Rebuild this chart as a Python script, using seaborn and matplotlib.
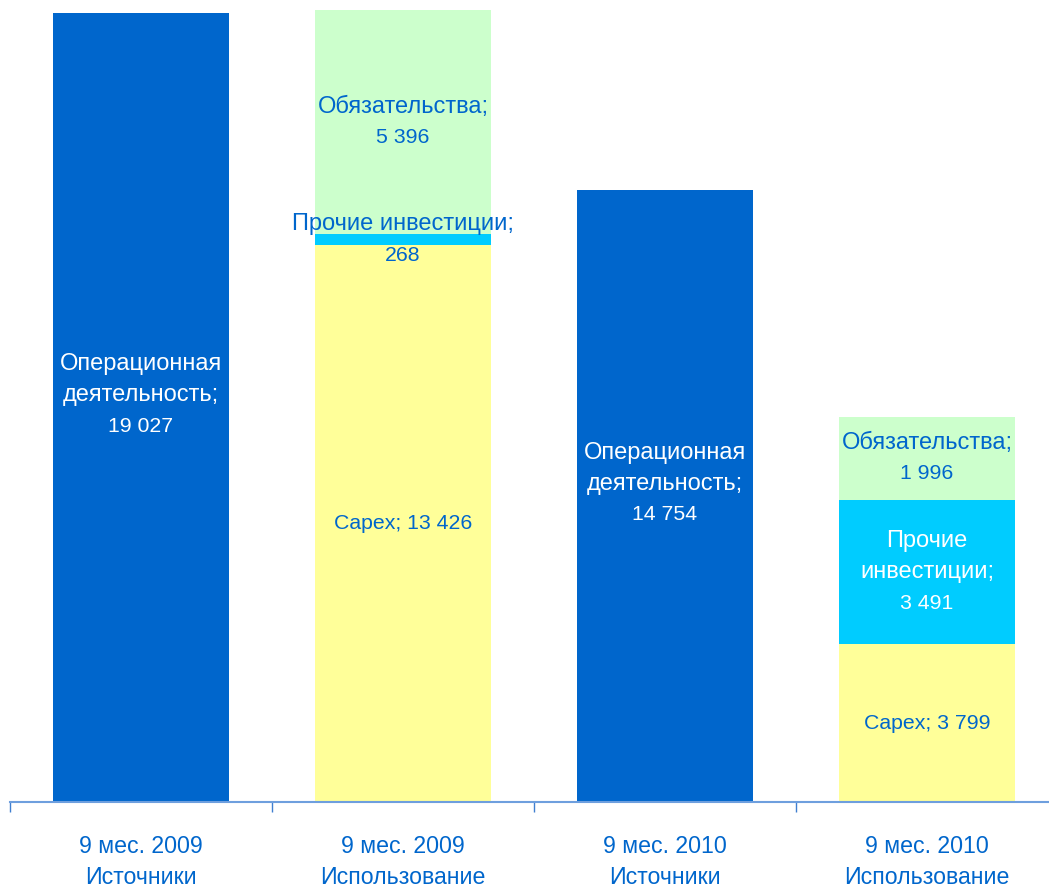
import numpy as np
import pandas as pd
import matplotlib
matplotlib.use('Agg')
import matplotlib.pyplot as plt
import seaborn as sns
from matplotlib import font_manager

# data
categories = ['9 мес. 2009\nИсточники', '9 мес. 2009\nИспользование',
              '9 мес. 2010\nИсточники', '9 мес. 2010\nИспользование']
operations = [19027, 0, 14754, 0]
capex = [0, 13426, 0, 3799]
other_inv = [0, 268, 0, 3491]
liabilities = [0, 5396, 0, 1996]

# segment labels: (name lines, value text)
op_labels = [(['Операционная', 'деятельность;'], '19 027'), None,
             (['Операционная', 'деятельность;'], '14 754'), None]
capex_labels = [None, ([], 'Capex; 13 426'), None, ([], 'Capex; 3 799')]
other_labels = [None, (['Прочие инвестиции;'], '268'), None,
                (['Прочие', 'инвестиции;'], '3 491')]
liab_labels = [None, (['Обязательства;'], '5 396'), None,
               (['Обязательства;'], '1 996')]

dark_blue = '#0066CC'
yellow = '#FFFF99'
cyan = '#00CCFF'
green = '#CCFFCC'
txt_blue = '#0066CC'

sns.set_style('white')
names = {f.name for f in font_manager.fontManager.ttflist}
if 'Liberation Sans Narrow' in names:
    narrow = 'Liberation Sans Narrow'
    k = 1.0
else:
    narrow = 'Liberation Sans'
    k = 0.9
plt.rcParams['font.family'] = ['Liberation Sans', 'DejaVu Sans']

fig = plt.figure(figsize=(10.49, 8.89), dpi=100)
# axes: baseline at y=802px, left at x=10px, runs a bit past the right edge
ax = fig.add_axes([10 / 1049, 87 / 889, 1048 / 1049, 802 / 889])

df = pd.DataFrame({'cat': categories, 'op': operations, 'capex': capex,
                   'other': other_inv, 'liab': liabilities})
b1 = np.array(capex)
b2 = b1 + np.array(other_inv)

sns.barplot(data=df, x='cat', y='op', color=dark_blue, saturation=1,
            width=0.67, ax=ax, linewidth=0)
sns.barplot(data=df, x='cat', y='capex', color=yellow, saturation=1,
            width=0.67, ax=ax, linewidth=0)
sns.barplot(data=df, x='cat', y='other', color=cyan, saturation=1,
            width=0.67, ax=ax, linewidth=0, bottom=b1)
sns.barplot(data=df, x='cat', y='liab', color=green, saturation=1,
            width=0.67, ax=ax, linewidth=0, bottom=b2)

ax.set_xlim(-0.5, 3.5)
ax.set_ylim(0, 19341)


def put_label(i, bottom, height, lab, color, shift=0):
    if lab is None:
        return
    lines, value = lab
    n = len(lines) + 1
    mid = bottom + height / 2
    step = 31 * 0.72  # points
    for j, line in enumerate(lines + [value]):
        dy = ((n - 1) / 2 - j) * step + shift
        is_val = j == n - 1
        ax.annotate(line, (i, mid), xytext=(0, dy), textcoords='offset points',
                    ha='center', va='center', color=color,
                    fontsize=17 * (k if is_val else 1),
                    family=[narrow if is_val else 'Liberation Sans', 'DejaVu Sans'])


for i in range(4):
    put_label(i, 0, operations[i], op_labels[i], 'white', shift=9)
    put_label(i, 0, capex[i], capex_labels[i], txt_blue)
    put_label(i, b1[i], other_inv[i], other_labels[i],
              'white' if other_inv[i] > 1000 else txt_blue)
    put_label(i, b2[i], liabilities[i], liab_labels[i], txt_blue)

ax.set_xlabel('')
ax.set_ylabel('')
ax.set_yticks([])
for s in ['top', 'right', 'left']:
    ax.spines[s].set_visible(False)
ax.spines['bottom'].set_color('#6E9FDE')
ax.spines['bottom'].set_linewidth(1.5)
ax.set_xticks(np.arange(4))
ax.set_xticklabels(categories, color=txt_blue, fontsize=18.5 * k,
                   family=[narrow, 'DejaVu Sans'], linespacing=1.45)
ax.tick_params(axis='x', which='major', length=0, pad=24)
ax.set_xticks(np.arange(-0.5, 4, 1), minor=True)
ax.tick_params(axis='x', which='minor', bottom=True, length=7, width=1,
               color='#3F7FD0', direction='out')

fig.savefig('out.png', dpi=100)
